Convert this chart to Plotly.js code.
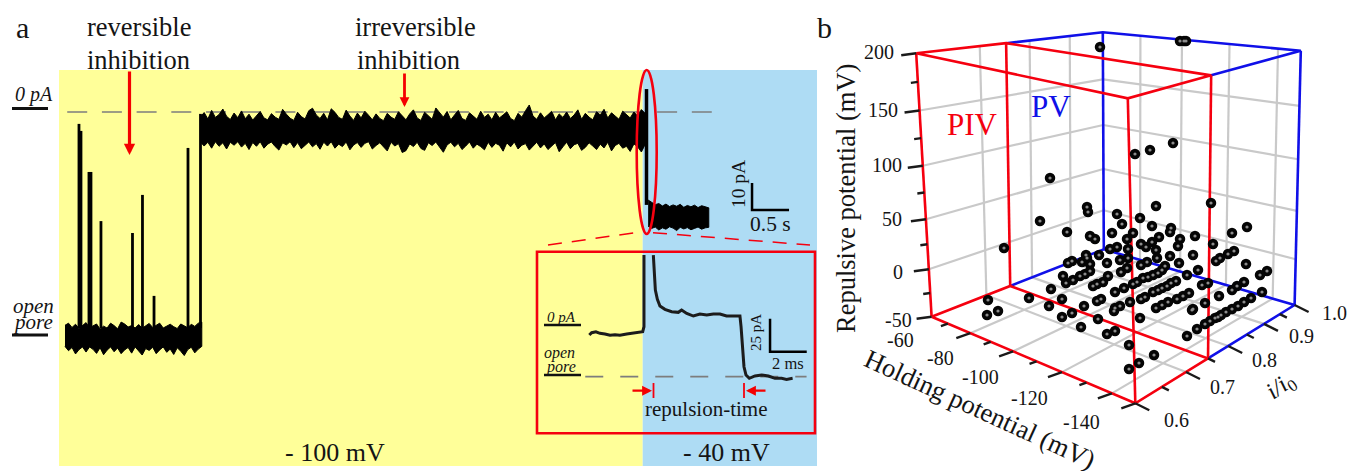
<!DOCTYPE html>
<html><head><meta charset="utf-8">
<script src="https://cdn.plot.ly/plotly-3.0.1.min.js"></script>
<style>html,body{margin:0;padding:0;background:#fff}#c{width:1347px;height:471px}</style>
</head><body><div id="c"></div>
<script>
// ---------- Panel a: current trace (time in s, current in pA) ----------
const openStart=0, openStep=0.0474;
const openTop=[-79,-78.2,-79.8,-78.6,-80.2,-79,-78,-79.9,-79.2,-78.5,-80.4,-79.3,-80,-78.2,-79.1,-80.3,-77.8,-78.5,-79.6,-79.1,-80,-78.7,-80.1,-79.3,-78.3,-79.8,-79,-78.2,-80,-79.2,-78.6,-79.5,-80.2,-78.5,-79.2,-79.9,-78.6,-79.4,-78.2,-77.8];
const openBottom=[-86.8,-88.4,-87.2,-89.6,-88,-87,-88.9,-87,-87.9,-89.4,-87.3,-89.9,-88.2,-87,-88.8,-87.4,-89.5,-88.1,-87.2,-89.3,-87,-88.5,-90,-87.6,-88.3,-87.1,-89.5,-88.1,-87,-89,-87.8,-89.8,-87.3,-88.6,-90.2,-88,-87.1,-89.2,-87.8,-86.8];
const blockStart=1.83, blockStep=0.0505;
const blockTop=[-1.8,-0.2,-2.6,0.6,-2,-0.9,1.1,-1.6,-2.8,-0.4,-2.1,0.4,-2.5,-0.8,-3,-1.2,0.2,-2.2,-2.9,-0.6,-1.9,-2.7,1,-0.8,-2.3,-3.1,-0.1,-1.7,-2.6,0.5,1.4,-1.1,-2.4,-0.5,-2.9,1.2,-0.1,-2,-2.7,0.7,-1.5,-3.1,-0.4,-2.2,0.3,-1.2,-2.9,-0.7,-2.4,-3.2,-0.5,-1.9,-2.7,0.1,-1.6,-2.9,-0.7,0.8,-2.2,-3.1,-0.1,-1.5,-2.7,1.5,-0.4,-1.9,0.2,-2.9,-1.1,0.6,-2.4,-3.1,-0.3,-1.6,-2.7,0.3,-2,-0.8,-2.9,-0.1,-2.2,-1.1,0.1,-2.4,-3.2,-0.5,-1.9,0.5,2.6,-1.5,-2.7,-0.3,-2.2,-1,0.3,-2.9,-0.7,-2,0,-2.4,-1.1,0.8,-2.7,-0.5,-1.9,-2.9,0.1,-1.1,1,-2.2,-0.3,-1.5,-2.7,0.3,-0.8,-2.2,0,-1.5,0.9,-0.5];
const blockBottom=[-11.1,-12.6,-11.2,-13.4,-11,-12.7,-11.4,-13.7,-11.2,-12.3,-11,-13,-11.6,-13.9,-11.3,-12.7,-11,-13.4,-11.9,-11.1,-12.8,-14.1,-11.4,-12.2,-11,-13.2,-11.3,-13.6,-12.3,-11.1,-12.9,-11.7,-13.8,-11.2,-12.6,-11,-13.4,-11.9,-12.8,-11.1,-14,-12.2,-11.3,-13.1,-11.6,-11,-13.7,-12.4,-11.4,-12.9,-14.4,-11.2,-12.6,-11.7,-15,-14.3,-11.8,-12.8,-11.2,-13.5,-14.2,-11.4,-12.4,-11.1,-13.2,-14.9,-12.2,-11.2,-12.9,-11.6,-13.9,-12.6,-11.1,-13.4,-11.9,-12.8,-14,-11.2,-13.1,-11.6,-12.3,-14.5,-11.4,-12.9,-11.1,-13.7,-12.3,-11.7,-14.1,-12.8,-11.2,-13.3,-11.8,-13.9,-12.5,-11.3,-14.7,-12.9,-11.2,-13.6,-12.1,-11.6,-14.2,-13.1,-11.4,-12.6,-13.9,-11.9,-13.3,-11.2,-14.4,-12.4,-11.6,-13.4,-12.7,-14.6,-11.8,-12.9,-14.8,-12];
const lowStart=7.88, lowStep=0.0482;
const lowTop=[-32.6,-33.4,-34.3,-33.9,-34.8,-34.1,-35,-34.4,-34.9,-34.2,-35.3,-34.6,-35.1,-34.5,-35.4,-34.7,-35.2,-35.5];
const lowBottom=[-42.3,-43.1,-42.6,-43.7,-42.9,-43.4,-42.5,-43,-43.9,-42.7,-43.3,-42.8,-43.6,-43.1,-42.6,-43.4,-42.9,-42.7];
const spikeTimes=[0.189,0.216,0.324,0.351,0.486,0.912,1.047,1.203,1.662,1.831];
const spikePeaks=[-4.4,-7,-22.2,-22.2,-40.4,-44.8,-30.7,-68.1,-13.3,-0.7];
const repulsionSpikeTime=[7.858,7.858], repulsionSpikeCurrent=[8.5,-34.4];
const zeroLineTime=[0.03,8.74], zeroLineCurrent=[0,0];
const barTimeA=[9.284,9.284,9.784], barCurrentA=[-26.3,-36.3,-36.3];

// ---------- Panel a inset (time in ms, current in pA) ----------
const insetTime=[-2.98,-2.85,-2.62,-2.4,-2.13,-1.85,-1.58,-1.31,-0.94,-0.58,-0.31,-0.07,0,0,null,0.51,0.56,0.62,0.73,0.87,1.14,1.51,1.87,2.05,2.33,2.69,3.05,3.42,3.78,4.14,4.5,4.87,5.23,5.29,5.36,5.45,5.56,5.74,6.05,6.41,6.78,7.14,7.5,7.77,8.1];
const insetCurrent=[-7.6,-5.8,-5.1,-6.3,-6.8,-7.8,-7.3,-7.8,-6.8,-6.3,-5.8,-5.1,-1.3,53,null,53,36.6,26.5,19.4,14.4,11.9,10.1,9.6,11.4,8.8,6.8,8.3,7.6,8.3,8.3,6.8,6.8,6.8,-1.3,-16.4,-31.6,-37.9,-40.4,-38.6,-37.9,-38.6,-40.4,-40.4,-41.2,-40.4];
const insetOpenTime=[-3.2,8.86], insetOpenCurrent=[-39.1,-39.1];
const barTimeB=[6.87,6.87,8.87], barCurrentB=[4.8,-20.2,-20.2];

// ---------- Panel b: axes and points ----------
const repulsiveTicks=[200,150,100,50,0,-50];
const repulsiveMinor=[175,125,75,25,-25];
const repulsiveFrac=[1,0.783,0.573,0.37,0.18,0];
const holdingTicks=[-60,-80,-100,-120,-140];
const holdingMinor=[-50,-70,-90,-110];
const holdingAll=[-45,-50,-60,-70,-80,-90,-100,-110,-120,-140];
const holdingFrac=[0,0.08,0.19,0.29,0.4,0.515,0.64,0.76,0.885,1];
const ratioTicks=[0.6,0.7,0.8,0.9,1.0];
const ratioMinor=[0.65,0.75,0.85,0.95];
const pivLimit=0.75;
const dotX=[1100,1180,1184,1186,1050,1135,1150,1173,1211,1156,1087,1088,1117,1140,1122,1040,1152,1067,1112,1133,1171,1170,1004,1090,1095,1127,1159,1180,1195,1247,1232,1213,1234,1228,1220,1216,1246,1267,1260,1178,1141,1146,1152,1156,1128,1117,1110,1099,1086,1072,1068,1082,1090,1087,1107,1120,1128,1157,1170,1193,1179,1141,1147,1165,1162,1198,1187,1121,1127,1063,1066,1073,1080,1085,1090,1158,1153,1148,1143,1137,1133,1108,1103,1097,1093,1124,1115,1176,1171,1167,1162,1158,1153,1202,1208,1189,1183,1177,1168,1162,1156,1145,1141,1219,1205,1193,1232,1262,1244,1237,1187,1197,1205,1210,1215,1218,1221,1226,1232,1238,1244,1251,1192,1051,1062,1049,1029,1084,1097,1101,1115,1120,1130,1062,1072,1098,1081,1107,1115,1129,1140,1154,1139,1129,1114,988,998,987];
const dotY=[47,41,41,41,178,154,150,143,203,206,207,212,214,218,224,221,226,232,233,233,228,232,248,236,239,239,237,239,236,227,233,244,251,254,258,261,264,271,275,246,244,247,242,250,249,247,249,255,255,261,263,262,264,258,263,260,258,258,256,255,263,265,262,266,270,270,275,272,268,276,283,280,276,274,271,273,275,277,278,282,284,276,282,284,286,288,292,281,283,286,288,290,292,285,283,293,296,299,302,305,308,297,299,296,303,309,290,292,282,286,336,329,324,321,318,317,315,312,309,306,302,298,310,289,299,306,298,306,301,299,308,306,302,317,313,319,327,334,331,345,318,355,363,369,311,300,311,315];

// ---------- Drawing helpers ----------
const W=1347,H=471;
const px=x=>x/W, py=y=>1-y/H;
const lerp=(a,b,t)=>a+(b-a)*t;
function table(xs,ys,v){for(let i=0;i<xs.length-1;i++){const lo=Math.min(xs[i],xs[i+1]),hi=Math.max(xs[i],xs[i+1]);if(v>=lo&&v<=hi)return lerp(ys[i],ys[i+1],(v-xs[i])/(xs[i+1]-xs[i]));}return 0;}
const cA=[931.6,316.7,916.2,53.3],cB=[1135.3,403.3,1127.8,98.3],cE=[1103.8,249.3,1102.8,32.3],cF=[1294.6,305,1300.8,50.7];
function project(V,r,R){
  const tV=table(holdingAll,holdingFrac,V), tZ=table(repulsiveTicks,repulsiveFrac,R), u=(r-0.6)/0.4;
  const k=1.4+0.15*tZ, tR=k*u/(1+(k-1)*u);
  const pt=(c1,c2)=>{const fl=lerp(c1[0],c2[0],tV),flY=lerp(c1[1],c2[1],tV),tp=lerp(c1[2],c2[2],tV),tpY=lerp(c1[3],c2[3],tV);return [lerp(fl,tp,tZ),lerp(flY,tpY,tZ)];};
  const a=pt(cA,cB),b=pt(cE,cF);
  return [lerp(a[0],b[0],tR),lerp(a[1],b[1],tR)];
}
function segs(list){const x=[],y=[];list.forEach(s=>{s.forEach(p=>{x.push(p[0]);y.push(p[1]);});x.push(null);y.push(null);});return {x,y};}
const V0=-45,V1=-140;
const gridSegs=[];
[0,50,100,150].forEach(R=>{gridSegs.push([project(V0,0.6,R),project(V0,1,R)]);gridSegs.push([project(V0,1,R),project(V1,1,R)]);});
[0.7,0.8,0.9].forEach(r=>{gridSegs.push([project(V0,r,-50),project(V0,r,200)]);gridSegs.push([project(V0,r,-50),project(V1,r,-50)]);});
[-60,-80,-100,-120].forEach(V=>{gridSegs.push([project(V,1,-50),project(V,1,200)]);gridSegs.push([project(V,0.6,-50),project(V,1,-50)]);});
const F=(V,r)=>project(V,r,-50),T=(V,r)=>project(V,r,200);
const blueSegs=[[F(V0,pivLimit),F(V0,1),F(V1,1),F(V1,pivLimit)],[T(V0,pivLimit),T(V0,1),T(V1,1),T(V1,pivLimit)],[F(V0,1),T(V0,1)],[F(V1,1),T(V1,1)]];
const redSegs=[[F(V0,0.6),F(V1,0.6),F(V1,pivLimit),F(V0,pivLimit),F(V0,0.6)],[T(V0,0.6),T(V1,0.6),T(V1,pivLimit),T(V0,pivLimit),T(V0,0.6)],[F(V0,0.6),T(V0,0.6)],[F(V0,pivLimit),T(V0,pivLimit)],[F(V1,0.6),T(V1,0.6)],[F(V1,pivLimit),T(V1,pivLimit)]];
const tick=(p,dx,dy)=>[p,[p[0]+dx,p[1]+dy]];
const tickSegs=[];
repulsiveTicks.forEach(R=>tickSegs.push(tick(project(V0,0.6,R),-15,2)));
repulsiveMinor.forEach(R=>tickSegs.push(tick(project(V0,0.6,R),-7,1)));
holdingTicks.forEach(V=>tickSegs.push(tick(project(V,0.6,-50),-14,5)));
holdingMinor.forEach(V=>tickSegs.push(tick(project(V,0.6,-50),-7,2.5)));
ratioTicks.forEach(r=>tickSegs.push(tick(project(V1,r,-50),14,7)));
ratioMinor.forEach(r=>tickSegs.push(tick(project(V1,r,-50),7,3.5)));

function band(start,step,top,bottom){const x=[],y=[];top.forEach((v,i)=>{x.push(start+i*step);y.push(v);});for(let i=bottom.length-1;i>=0;i--){x.push(start+i*step);y.push(bottom[i]);}return {x,y};}
const bandTrace=b=>({x:b.x,y:b.y,mode:'lines',fill:'toself',fillcolor:'#000',line:{color:'#000',width:1},xaxis:'x',yaxis:'y',hoverinfo:'skip'});
const spikeX=[],spikeY=[];spikeTimes.forEach((t,i)=>{spikeX.push(t,t,null);spikeY.push(-80,spikePeaks[i],null);});

const RED='#f5000f',BLUE='#1010e8',GREY='#7d7d7d';
const gs=segs(gridSegs),bs=segs(blueSegs),rs=segs(redSegs),ts=segs(tickSegs);
const traces=[
 {x:zeroLineTime,y:zeroLineCurrent,mode:'lines',line:{color:GREY,width:1.6,dash:'20px,14.7px'},xaxis:'x',yaxis:'y'},
 bandTrace(band(openStart,openStep,openTop,openBottom)),
 bandTrace(band(blockStart,blockStep,blockTop,blockBottom)),
 bandTrace(band(lowStart,lowStep,lowTop,lowBottom)),
 {x:spikeX,y:spikeY,mode:'lines',line:{color:'#000',width:2.8},xaxis:'x',yaxis:'y'},
 {x:repulsionSpikeTime,y:repulsionSpikeCurrent,mode:'lines',line:{color:'#000',width:3.5},xaxis:'x',yaxis:'y'},
 {x:barTimeA,y:barCurrentA,mode:'lines',line:{color:'#000',width:2.5},xaxis:'x',yaxis:'y'},
 {x:insetOpenTime,y:insetOpenCurrent,mode:'lines',line:{color:GREY,width:1.6,dash:'18px,17px'},xaxis:'x2',yaxis:'y2'},
 {x:insetTime,y:insetCurrent,mode:'lines',line:{color:'#1c1c1c',width:3},connectgaps:false,xaxis:'x2',yaxis:'y2'},
 {x:barTimeB,y:barCurrentB,mode:'lines',line:{color:'#000',width:2.5},xaxis:'x2',yaxis:'y2'},
 {x:gs.x,y:gs.y,mode:'lines',line:{color:'#c9c9c9',width:2.2},xaxis:'x3',yaxis:'y3'},
 {x:bs.x,y:bs.y,mode:'lines',line:{color:BLUE,width:2.6},xaxis:'x3',yaxis:'y3'},
 {x:rs.x,y:rs.y,mode:'lines',line:{color:RED,width:2.6},xaxis:'x3',yaxis:'y3'},
 {x:ts.x,y:ts.y,mode:'lines',line:{color:'#1a1a1a',width:2.4},xaxis:'x3',yaxis:'y3'},
 {x:dotX,y:dotY,mode:'markers',marker:{size:10.5,color:'#050505',line:{width:0}},xaxis:'x3',yaxis:'y3'},
 {x:dotX,y:dotY,mode:'markers',marker:{size:3.2,color:'#8c8c8c',line:{width:0},symbol:'circle',standoff:0,angle:0},xaxis:'x3',yaxis:'y3'}
];

const FONT='"Liberation Serif","Times New Roman",serif';
function txt(t,x,y,size,o){return Object.assign({text:t,x:px(x),y:py(y),xref:'paper',yref:'paper',showarrow:false,xanchor:'center',yanchor:'middle',font:{family:FONT,size:size,color:'#141414'}},o||{});}
function arrow(x,y,ax,ay,w,size){return {text:'',x:px(x),y:py(y),xref:'paper',yref:'paper',showarrow:true,ax:ax,ay:ay,arrowcolor:'#f40000',arrowwidth:w,arrowhead:2,arrowsize:size,standoff:0,startstandoff:0};}
const annotations=[
 txt('a',22,28,30),txt('b',824,28,30),
 txt('reversible',139,27,26.5),txt('inhibition',138,60,26.5),
 txt('irreversible',416,27,26.5),txt('inhibition',408,60,26.5),
 txt('<i>0 pA</i>',34,95,20),txt('<i>open</i>',33,306,21),txt('<i>pore</i>',33,322,21),
 txt('10 pA',738,184,19.5,{textangle:-90}),txt('0.5 s',770,224,21.5),
 txt('<i>0 pA</i>',561,317,15),txt('<i>open</i>',559,353,16),txt('<i>pore</i>',561,367,16),
 txt('25 pA',756,333,15,{textangle:-90}),txt('2 ms',788,363,16.5),
 txt('repulsion-time',706,409,21),
 txt('- 100 mV',335,452,26),txt('- 40 mV',726,452,26),
 txt('200',878.5,51.7,20),txt('150',883,110,20),txt('100',887,165,20),txt('50',892,219.3,20),txt('0',898,271.7,20),txt('-50',898,320,20),
 txt('-60',900.8,340,20),txt('-80',940,358.3,20),txt('-100',980.5,376.7,20),txt('-120',1029,398.3,20),txt('-140',1081,422.3,20),
 txt('0.6',1176.4,420,20),txt('0.7',1222.7,387.3,20),txt('0.8',1264.5,360,20),txt('0.9',1301.4,336,20),txt('1.0',1334,313.3,20),
 txt('Repulsive potential (mV)',846,198,26.5,{textangle:-90}),
 txt('Holding potential (mV)',979.5,409,26.5,{textangle:24.6}),
 txt('<i>i/i</i><sub>0</sub>',1281,387,24,{textangle:-36}),
 Object.assign(txt('PIV',972.7,125,31),{font:{family:FONT,size:31,color:RED}}),
 Object.assign(txt('PV',1051,106.7,31),{font:{family:FONT,size:31,color:BLUE}}),
 arrow(129.5,155,0,-85,3.2,0.7),arrow(404.5,107,0,-35,2.8,0.7),
 arrow(652,390.7,-21,0,2.2,0.9),arrow(746,390.7,21,0,2.2,0.9)
];
function ln(x0,y0,x1,y1,c,w,d){return {type:'line',xref:'paper',yref:'paper',x0:px(x0),y0:py(y0),x1:px(x1),y1:py(y1),line:{color:c,width:w,dash:d||'solid'}};}
const shapes=[
 {type:'rect',xref:'paper',yref:'paper',x0:px(59),x1:px(642.7),y0:py(466),y1:py(70),fillcolor:'#ffff99',line:{width:0},layer:'below'},
 {type:'rect',xref:'paper',yref:'paper',x0:px(642.7),x1:px(817),y0:py(466),y1:py(70),fillcolor:'#aedcf4',line:{width:0},layer:'below'},
 ln(12,108.5,48,108.5,'#111',2.8),ln(12,335,48,335,'#111',2.8),
 ln(544,325,581,325,'#111',2.4),ln(544,375,581,375,'#111',2.4),
 {type:'circle',xref:'paper',yref:'paper',x0:px(636.7),x1:px(656.7),y0:py(234),y1:py(70),line:{color:RED,width:2.6}},
 ln(548,245,635,232.7,RED,1.5,'14px,10px'),ln(653,232.7,810,245,RED,1.5,'14px,10px'),
 {type:'rect',xref:'paper',yref:'paper',x0:px(537),x1:px(815),y0:py(433.3),y1:py(251.7),line:{color:RED,width:2.6}},
 ln(653.5,383,653.5,398,RED,1.8),ln(744,383,744,398,RED,1.8)
];
const off={visible:false,fixedrange:true};
const layout={width:W,height:H,margin:{l:0,r:0,t:0,b:0},paper_bgcolor:'#fff',plot_bgcolor:'rgba(0,0,0,0)',showlegend:false,hovermode:false,
 xaxis:Object.assign({domain:[px(59),px(817)],range:[-0.081,10.162],anchor:'y'},off),
 yaxis:Object.assign({domain:[py(466),py(70)],range:[-131.1,15.56],anchor:'x'},off),
 xaxis2:Object.assign({domain:[px(537),px(815)],range:[-5.83,9.32],anchor:'y2'},off),
 yaxis2:Object.assign({domain:[py(433),py(252)],range:[-81.8,55.3],anchor:'x2'},off),
 xaxis3:Object.assign({domain:[0,1],range:[0,W],anchor:'y3'},off),
 yaxis3:Object.assign({domain:[0,1],range:[H,0],anchor:'x3'},off),
 annotations,shapes};
Plotly.newPlot('c',traces,layout,{staticPlot:true,displayModeBar:false});
</script></body></html>
